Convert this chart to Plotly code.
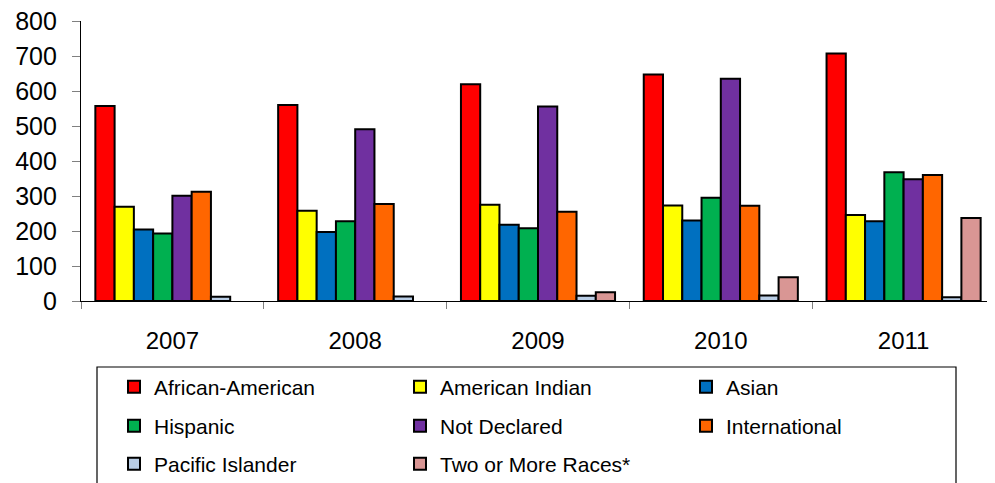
import plotly.graph_objects as go

years = ["2007", "2008", "2009", "2010", "2011"]

african_american = [557, 560, 619, 647, 707]
american_indian = [269, 258, 275, 273, 246]
asian = [204, 197, 218, 230, 228]
hispanic = [193, 228, 208, 295, 368]
not_declared = [301, 491, 556, 635, 348]
international = [312, 277, 255, 272, 360]
pacific_islander = [12, 13, 15, 16, 11]
two_or_more = [None, None, 25, 68, 237]

series = [
    ("African-American", african_american, "#FF0000"),
    ("American Indian", american_indian, "#FFFF00"),
    ("Asian", asian, "#0070C0"),
    ("Hispanic", hispanic, "#00B050"),
    ("Not Declared", not_declared, "#7030A0"),
    ("International", international, "#FF6600"),
    ("Pacific Islander", pacific_islander, "#B9CDE5"),
    ("Two or More Races*", two_or_more, "#D99694"),
]

legend_ids = ["legend", "legend", "legend",
              "legend2", "legend2", "legend2",
              "legend3", "legend3"]

fig = go.Figure()
for (name, vals, color), lg in zip(series, legend_ids):
    fig.add_trace(go.Bar(
        x=years, y=vals, name=name, legend=lg,
        marker=dict(color=color, line=dict(color="#000000", width=2)),
    ))

FONT = "Liberation Sans, Arial, sans-serif"

# page body has an 8px margin; work in screenshot pixels and convert
OFF = 8
W, H = 995 - OFF, 483 - OFF
L = 81 - OFF
T = 21 - OFF
AXIS_Y = 301 - OFF
B = H - AXIS_Y
PW, PH = W - L, H - T - B


def py(pix):
    return (AXIS_Y - (pix - OFF)) / PH


def px(pix):
    return ((pix - OFF) - L) / PW


def legend_row(ycenter):
    return dict(
        orientation="h",
        x=px(114), xanchor="left",
        y=py(ycenter), yanchor="middle",
        font=dict(family=FONT, size=21, color="#000000"),
        entrywidth=241, entrywidthmode="pixels",
        bgcolor="rgba(0,0,0,0)", borderwidth=0,
        traceorder="normal",
    )


fig.update_layout(
    width=W, height=H,
    margin=dict(l=L, r=0, t=T, b=B, autoexpand=False),
    paper_bgcolor="white", plot_bgcolor="white",
    barmode="group", bargap=0.157, bargroupgap=0,
    font=dict(family=FONT, color="#000000"),
    showlegend=True,
    legend=legend_row(387),
    legend2=legend_row(426),
    legend3=legend_row(464),
    xaxis=dict(
        automargin=False,
        showline=True, linecolor="#000000", linewidth=1.2,
        ticks="outside", tickson="boundaries", ticklen=7, tickcolor="#808080",
        tickfont=dict(family=FONT, size=24, color="#000000"),
        showgrid=False, ticklabelstandoff=18, ticklabeloverflow="allow",
    ),
    yaxis=dict(
        automargin=False,
        range=[0, 800], dtick=100,
        showline=True, linecolor="#000000", linewidth=1.2,
        ticks="outside", ticklen=8, tickcolor="#808080",
        tickfont=dict(family=FONT, size=25, color="#000000"),
        showgrid=False, zeroline=False, ticklabelstandoff=10,
        ticklabeloverflow="allow",
    ),
    shapes=[dict(
        type="rect", xref="paper", yref="paper",
        x0=px(97), x1=px(956),
        y0=py(367), y1=py(492),
        line=dict(color="#000000", width=1.2), fillcolor="rgba(0,0,0,0)",
    )],
)

fig.write_html("out.html")
